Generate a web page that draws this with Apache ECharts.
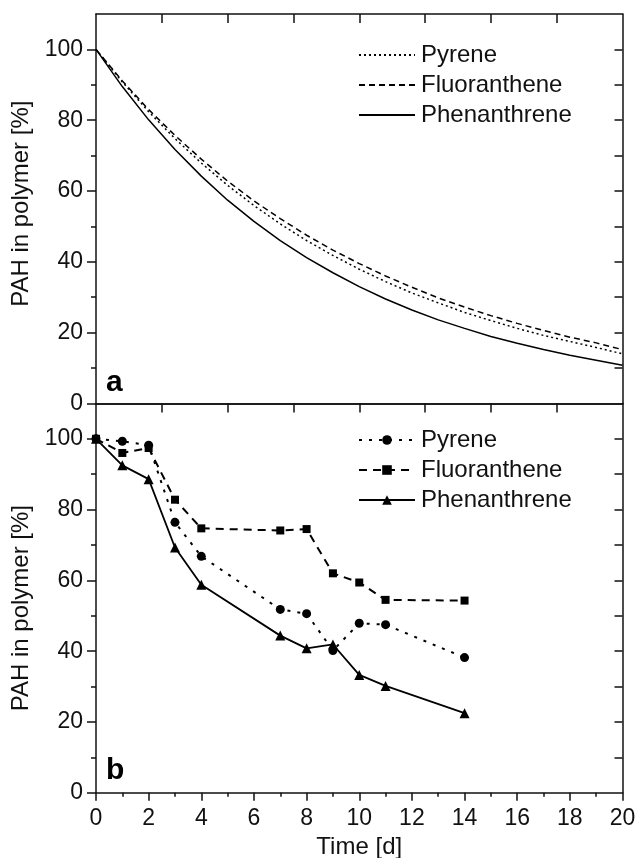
<!DOCTYPE html>
<html>
<head>
<meta charset="utf-8">
<script src="https://cdn.jsdelivr.net/npm/echarts@6/dist/echarts.min.js"></script>
<style>
html,body{margin:0;padding:0;background:#fff;}
#chart{width:637px;height:858px;}
</style>
</head>
<body>
<div id="chart"></div>
<script>
// ---- Data ----
// Panel a: model curves (time in days)
var timeA = [0,1,2,3,4,5,6,7,8,9,10,11,12,13,14,15,16,17,18,19,20];
var pyreneA = [100,90.8,82.4,74.8,67.9,61.6,55.9,50.7,46.0,41.8,37.9,34.4,31.2,28.4,25.7,23.4,21.2,19.2,17.5,15.8,14.0];
var fluorA  = [100,91.1,83.0,75.7,69.0,62.8,57.2,52.2,47.5,43.3,39.5,36.0,32.8,29.8,27.2,24.8,22.6,20.6,18.7,17.1,15.2];
var phenA   = [100,89.5,80.1,71.7,64.2,57.4,51.4,46.0,41.2,36.9,33.0,29.5,26.4,23.6,21.2,18.9,17.0,15.2,13.6,12.2,10.8];

// Panel b: measured values
var timeB = [0,1,2,3,4,7,8,9,10,11,14];
var pyreneB = [100,99.3,98.2,76.4,66.8,51.8,50.6,40.2,47.9,47.5,38.2];
var fluorB  = [100,96.0,97.4,82.8,74.7,74.1,74.5,62.0,59.4,54.5,54.3];
var phenB   = [100,92.5,88.6,69.3,58.8,44.4,40.8,41.9,33.3,30.2,22.5];

// Tick values
var xMajorTicks = [0,2,4,6,8,10,12,14,16,18,20];
var xTopTicks = [2.5,5,7.5,10,12.5,15,17.5];
var yMajorTicks = [0,20,40,60,80,100];
var yMinorTicks = [10,30,50,70,90];
var yRightTicks = [10,20,30,40,50,60,70,80,90,100];

var names = ['Pyrene','Fluoranthene','Phenanthrene'];

function pairs(xs, ys){ return xs.map(function(x,i){ return [x, ys[i]]; }); }

var FONT = 'Liberation Sans, Arial, sans-serif';
var INK = '#111';
var AXL = {color:'#111', width:1.5};

function bottomAxisBlank(g){
  return {type:'value', gridIndex:g, position:'bottom', min:0, max:20,
    axisLine:{show:true, onZero:false, lineStyle:AXL}, axisTick:{show:false},
    axisLabel:{show:false}, splitLine:{show:false}};
}
function topAxis(g){
  return {type:'value', gridIndex:g, position:'top', min:0, max:20,
    axisLine:{show:true, onZero:false, lineStyle:AXL},
    axisTick:{show:true, inside:true, length:9, customValues:xTopTicks, lineStyle:AXL},
    axisLabel:{show:false}, splitLine:{show:false}};
}
function leftAxis(g, pad){
  return {type:'value', gridIndex:g, position:'left', min:0, max:110,
    name:'PAH in polymer [%]', nameLocation:'middle', nameGap:49,
    nameTextStyle:{fontFamily:FONT, fontSize:24, color:INK, padding:pad},
    axisLine:{show:true, onZero:false, lineStyle:AXL},
    axisTick:{show:true, inside:false, length:9, customValues:yMajorTicks, lineStyle:AXL},
    axisLabel:{show:true, customValues:yMajorTicks, margin:13, fontFamily:FONT, fontSize:23, color:INK},
    splitLine:{show:false}};
}
function leftMinor(g){
  return {type:'value', gridIndex:g, position:'left', min:0, max:110,
    axisLine:{show:false}, axisLabel:{show:false}, splitLine:{show:false},
    axisTick:{show:true, inside:false, length:5, customValues:yMinorTicks, lineStyle:AXL}};
}
function rightAxis(g){
  return {type:'value', gridIndex:g, position:'right', min:0, max:110,
    axisLine:{show:true, onZero:false, lineStyle:AXL},
    axisTick:{show:true, inside:true, length:8, customValues:yRightTicks, lineStyle:AXL},
    axisLabel:{show:false}, splitLine:{show:false}};
}

var lineA = [
  {type:[2,3], width:1.5},
  {type:[6,4], width:1.5},
  {type:'solid', width:1.5}
];
var lineB = [
  {type:[3,7], width:2},
  {type:[8,6], width:2},
  {type:'solid', width:1.8}
];
var symB = ['circle','rect','triangle'];
var symSizeB = [9,8,10];
var dataA = [pyreneA, fluorA, phenA];
var dataB = [pyreneB, fluorB, phenB];

var series = [];
for (var i=0;i<3;i++){
  series.push({name:names[i], type:'line', xAxisIndex:0, yAxisIndex:0,
    data:pairs(timeA, dataA[i]), symbol:'none', showSymbol:false, smooth:false,
    lineStyle:{color:'#000', width:lineA[i].width, type:lineA[i].type},
    itemStyle:{color:'#000'}, animation:false, silent:true});
}
for (var j=0;j<3;j++){
  series.push({name:'b:'+names[j], type:'line', xAxisIndex:2, yAxisIndex:3,
    data:pairs(timeB, dataB[j]), symbol:symB[j], symbolSize:symSizeB[j], showSymbol:true,
    lineStyle:{color:'#000', width:lineB[j].width, type:lineB[j].type},
    itemStyle:{color:'#000'}, animation:false, silent:true});
}

var legendCommon = {orient:'vertical', left:358, itemWidth:56, itemHeight:12, itemGap:6,
  padding:0, selectedMode:false,
  textStyle:{fontFamily:FONT, fontSize:24, color:INK, padding:[0,0,0,1]},
  formatter:function(n){ return n.replace('b:',''); }};

var option = {
  backgroundColor:'#fff',
  animation:false,
  grid:[
    {left:96, top:14, width:526.5, height:389.4, outerBoundsMode:'none', containLabel:false},
    {left:96, top:403.4, width:526.5, height:389.4, outerBoundsMode:'none', containLabel:false}
  ],
  xAxis:[
    bottomAxisBlank(0),
    topAxis(0),
    {type:'value', gridIndex:1, position:'bottom', min:0, max:20, interval:2,
      name:'Time [d]', nameLocation:'middle', nameGap:43,
      nameTextStyle:{fontFamily:FONT, fontSize:24, color:INK},
      axisLine:{show:true, onZero:false, lineStyle:AXL},
      axisTick:{show:true, inside:false, length:8, lineStyle:AXL},
      minorTick:{show:true, splitNumber:2, length:4, lineStyle:AXL},
      axisLabel:{show:true, margin:14, fontFamily:FONT, fontSize:23, color:INK},
      splitLine:{show:false}, minorSplitLine:{show:false}},
    topAxis(1)
  ],
  yAxis:[
    leftAxis(0, [0,0,0,10]), leftMinor(0), rightAxis(0),
    leftAxis(1, [0,20,0,0]), leftMinor(1), rightAxis(1)
  ],
  legend:[
    Object.assign({}, legendCommon, {top:43, data:names.slice(),
      itemStyle:{color:'rgba(0,0,0,0)', borderWidth:0, opacity:0}}),
    Object.assign({}, legendCommon, {top:428, data:names.map(function(n){return 'b:'+n;})})
  ],
  graphic:[
    {type:'text', left:106, top:368, style:{text:'a', font:'bold 30px '+FONT, fill:'#000'}},
    {type:'text', left:106, top:756, style:{text:'b', font:'bold 30px '+FONT, fill:'#000'}}
  ],
  series:series
};

var chart = echarts.init(document.getElementById('chart'), null, {renderer:'canvas'});
chart.setOption(option);
</script>
</body>
</html>
